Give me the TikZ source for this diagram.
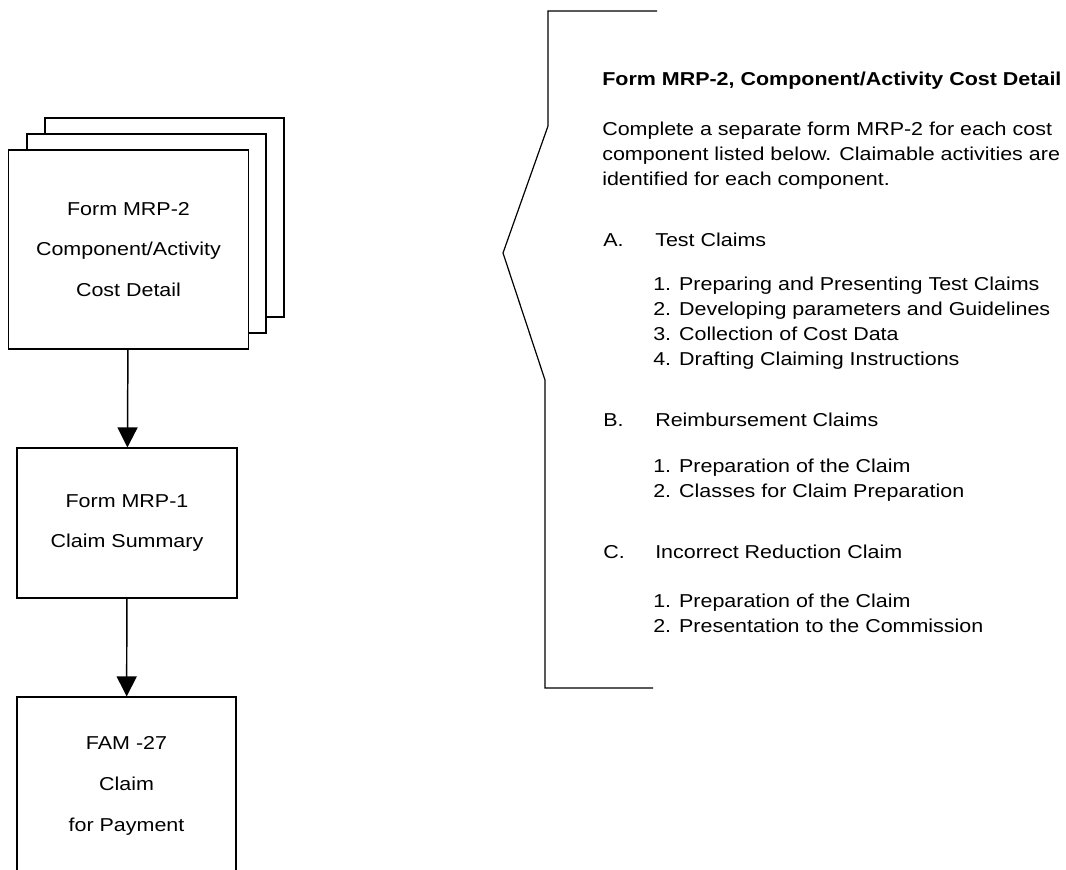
\documentclass[tikz,border=0pt]{standalone}
\usepackage{fontspec}
\setmainfont{Liberation Sans}[FakeStretch=1.15]
\usetikzlibrary{arrows.meta}

\begin{document}
\begin{tikzpicture}[x=0.75pt, y=-0.75pt,
    formbox/.style={draw, line width=0.9pt, fill=white, align=center, inner sep=0pt, font=\fontsize{14}{30.5}\selectfont},
    txt/.style={anchor=west, inner sep=0pt, align=left, font=\fontsize{14}{18.75}\selectfont},
    flow/.style={-{Triangle[width=15pt, length=15pt]}, line width=1.1pt}
]
\clip (0,0) rectangle (1066,869);

% === Form stack ===
\foreach \k in {2,1} {
    \node[formbox, minimum width=179.25pt, minimum height=149.25pt] (sheet\k) at (128.5+\k*18, 249.5-\k*16) {};
}
\node[formbox, minimum width=180pt, minimum height=149.25pt] (mrp2) at (128.5,249.5) {Form MRP-2\\Component/Activity\\Cost Detail};

\node[formbox, minimum width=165pt, minimum height=112.5pt] (mrp1) at (127,523) {Form MRP-1\\Claim Summary};
\node[formbox, minimum width=164.25pt, minimum height=133.5pt] (fam) at (126.5,786) {FAM -27\\Claim\\for Payment};

\draw[flow] (mrp2) -- (mrp1);
\draw[flow] (mrp1) -- (fam);

% === Bracket ===
\draw[line width=0.9pt] (657,11) -- (548,11) -- (548,126) -- (503,253) -- (545,380) -- (545,688) -- (653,688);

% === Detail text ===
\node[txt, font=\fontsize{14}{18.75}\selectfont\bfseries] (title) at (602,81) {Form MRP-2, Component/Activity Cost Detail};
\node[txt] (intro) at (602,156) {Complete a separate form MRP-2 for each cost\\component listed below. Claimable activities are\\identified for each component.};

\foreach \l/\h/\y in {A/Test Claims/240, B/Reimbursement Claims/420, C/Incorrect Reduction Claim/552} {
    \node[txt] (sec\l) at (603,\y) {\l.};
    \node[txt] (head\l) at (655,\y) {\h};
}

\node[txt] (itemsA) at (653,323.5) {1. Preparing and Presenting Test Claims\\2. Developing parameters and Guidelines\\3. Collection of Cost Data\\4. Drafting Claiming Instructions};
\node[txt] (itemsB) at (653,480.5) {1. Preparation of the Claim\\2. Classes for Claim Preparation};
\node[txt] (itemsC) at (653,613) {1. Preparation of the Claim\\2. Presentation to the Commission};

\end{tikzpicture}
\end{document}
